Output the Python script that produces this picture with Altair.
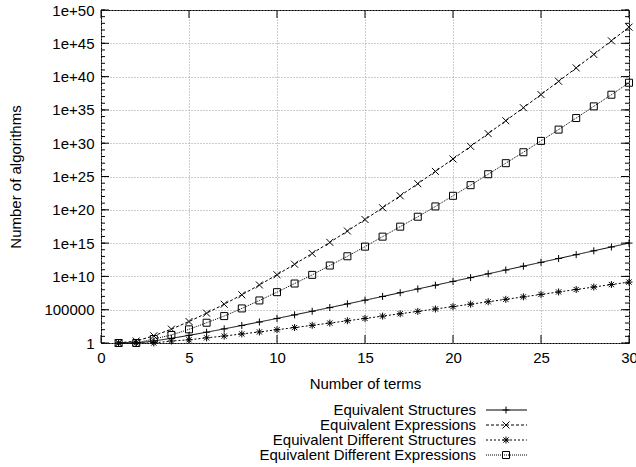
import altair as alt
import pandas as pd

# ---- data ----
terms = [1, 2, 3, 4, 5, 6, 7, 8, 9, 10, 11, 12, 13, 14, 15,
         16, 17, 18, 19, 20, 21, 22, 23, 24, 25, 26, 27, 28, 29, 30]

equiv_structures = [1, 1, 2, 5, 14, 42, 132, 429, 1430, 4862, 16796, 58786,
                    208012, 742900, 2674440, 9694845, 35357670, 129644790,
                    477638700, 1767263190, 6564120420, 24466267020,
                    91482563640, 343059613650, 1289904147324, 4861946401452,
                    18367353072152, 69533550916004, 263747951750360,
                    1002242216651368]

equiv_expressions = [1, 2, 12, 120, 1680, 30240, 665280, 17297280, 518918400,
                     1.764e10, 6.704e11, 2.815e13, 1.295e15, 6.476e16,
                     3.497e18, 2.028e20, 1.258e22, 8.301e23, 5.811e25,
                     4.300e27, 3.354e29, 2.751e31, 2.365e33, 2.129e35,
                     2.001e37, 1.961e39, 2.000e41, 2.121e43, 2.333e45,
                     2.660e47]

equiv_diff_structures = [1, 1, 1, 2, 3, 6, 11, 23, 46, 98, 207, 451, 983, 2179,
                         4850, 10905, 24631, 56011, 127912, 293547, 676157,
                         1563372, 3626149, 8436379, 19680277, 46026618,
                         107890609, 253450711, 596572387, 1406818759]

equiv_diff_expressions = [1, 1, 4, 16, 112, 1100, 11000, 1.55e5, 2.45e6,
                          4.3e7, 8.5e8, 1.7e10, 4.3e11, 1.05e13, 2.95e14,
                          9.3e15, 2.95e17, 9.1e18, 3.2e20, 1.26e22, 5.0e23,
                          2.2e25, 1.0e27, 4.4e28, 2.2e30, 1.1e32, 6.0e33,
                          3.4e35, 1.9e37, 1.2e39]

series_names = ["Equivalent Structures", "Equivalent Expressions",
                "Equivalent Different Structures",
                "Equivalent Different Expressions"]
legend_rows = [0, 1, 2, 3]

x_major = [0, 5, 10, 15, 20, 25, 30]
y_major = [1, 1e5, 1e10, 1e15, 1e20, 1e25, 1e30, 1e35, 1e40, 1e45, 1e50]
y_minor = [10.0 ** k for k in range(0, 51)]

# ---- styles ----
FONT = "Liberation Sans"
FS = 15
W, H = 528, 333
dashes = [[1, 0], [3, 2], [2, 2], [1, 1]]
shapes = ["M-1,0H1M0,-1V1",
          "M-1,-1L1,1M1,-1L-1,1",
          "M-1,0H1M0,-1V1M-0.75,-0.75L0.75,0.75M0.75,-0.75L-0.75,0.75",
          "square"]

rows = []
for name, vals in zip(series_names, [equiv_structures, equiv_expressions,
                                     equiv_diff_structures,
                                     equiv_diff_expressions]):
    for n, v in zip(terms, vals):
        rows.append({"n": n, "value": v, "series": name})
df = pd.DataFrame(rows)

xscale = alt.Scale(domain=[0, 30], nice=False, zero=False)
yscale = alt.Scale(type="log", domain=[1, 1e50], nice=False)
dash_scale = alt.Scale(domain=series_names, range=dashes)
shape_scale = alt.Scale(domain=series_names, range=shapes)

X = alt.X("n:Q", scale=xscale,
          axis=alt.Axis(values=x_major, title="Number of terms", grid=True,
                        gridColor="#9a9a9a", gridDash=[1, 2], gridWidth=1,
                        ticks=False, domain=False, labelPadding=7,
                        labelFont=FONT, labelFontSize=FS, labelColor="black",
                        labelFlush=False,
                        titleFont=FONT, titleFontSize=FS, titleFontWeight="normal",
                        titleColor="black", titleY=40, titleBaseline="middle"))
Y = alt.Y("value:Q", scale=yscale,
          axis=alt.Axis(values=y_major, title="Number of algorithms", grid=True,
                        gridColor="#9a9a9a", gridDash=[1, 2], gridWidth=1,
                        ticks=False, domain=False, labelPadding=7,
                        labelFont=FONT, labelFontSize=FS, labelColor="black",
                        labelFlush=False,
                        labelExpr="datum.value == 1 ? '1' : (datum.value == 100000 ? '100000' : '1e+' + format(log(datum.value)/LN10, '.0f'))",
                        titleFont=FONT, titleFontSize=FS, titleFontWeight="normal",
                        titleColor="black", titleX=-86, titleY=H / 2,
                        titleAngle=-90, titleAlign="center",
                        titleBaseline="middle"))

lines = alt.Chart(df).mark_line(strokeWidth=1, color="black").encode(
    x=X, y=Y, detail="series:N",
    strokeDash=alt.StrokeDash("series:N", scale=dash_scale, legend=None))

points = alt.Chart(df).mark_point(filled=False, color="black", strokeWidth=1,
                                  size=49, opacity=1, clip=False).encode(
    x=alt.X("n:Q", scale=xscale), y=alt.Y("value:Q", scale=yscale),
    shape=alt.Shape("series:N", scale=shape_scale, legend=None))

# inward tick marks (gnuplot style)
ymin_df = pd.DataFrame({"v": y_minor})
ymaj_df = pd.DataFrame({"v": y_major})
xmaj_df = pd.DataFrame({"v": x_major})

def yticks(data, x0, x1):
    return alt.Chart(data).mark_rule(color="black", strokeWidth=1).encode(
        y=alt.Y("v:Q", scale=yscale), x=alt.value(x0), x2=alt.value(x1))

def xticks(y0, y1):
    return alt.Chart(xmaj_df).mark_rule(color="black", strokeWidth=1).encode(
        x=alt.X("v:Q", scale=xscale), y=alt.value(y0), y2=alt.value(y1))

ticks = [yticks(ymin_df, 0, 4), yticks(ymin_df, W, W - 4),
         yticks(ymaj_df, 0, 8), yticks(ymaj_df, W, W - 8),
         xticks(H, H - 8), xticks(0, 8)]

main = alt.layer(lines, *ticks, points)

# ---- legend drawn gnuplot-style below the plot ----
leg_df = pd.DataFrame({"series": series_names, "row": legend_rows})
legY = alt.Y("row:Q", scale=alt.Scale(domain=[0, 3], range=[400, 445],
                                      zero=False, nice=False),
             axis=None)
leg_text = alt.Chart(leg_df).mark_text(align="right", baseline="middle",
                                       font=FONT, fontSize=FS, color="black").encode(
    y=legY, x=alt.value(375), text="series:N")
leg_line = alt.Chart(leg_df).mark_rule(color="black", strokeWidth=1).encode(
    y=legY, x=alt.value(385), x2=alt.value(426),
    strokeDash=alt.StrokeDash("series:N", scale=dash_scale, legend=None))
leg_pts = alt.Chart(leg_df).mark_point(filled=False, color="black", strokeWidth=1,
                                       size=49, opacity=1).encode(
    y=legY, x=alt.value(405),
    shape=alt.Shape("series:N", scale=shape_scale, legend=None))
legend = alt.layer(leg_text, leg_line, leg_pts)

chart = alt.layer(main, legend).resolve_scale(y="independent").properties(
    width=W, height=H,
    autosize=alt.AutoSizeParams(type="none"),
    padding={"left": 101, "top": 10, "right": 7, "bottom": 124},
    background="white",
).configure_view(stroke="black", strokeWidth=1)

chart.save("out.html", embed_options={"renderer": "svg", "actions": False})
